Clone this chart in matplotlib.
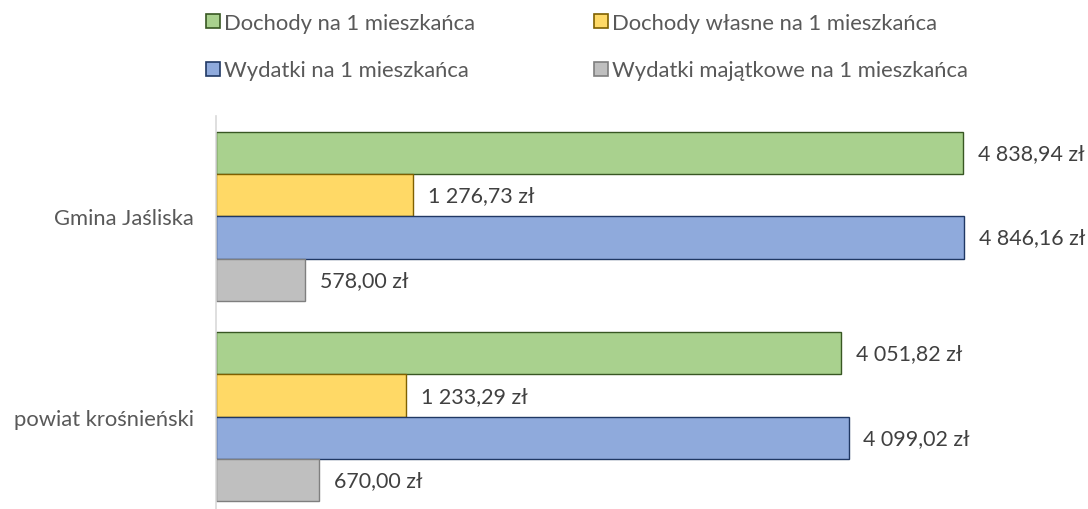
import matplotlib.pyplot as plt
import numpy as np
from matplotlib.patches import Patch

plt.rcParams["font.family"] = ["Lato", "DejaVu Sans"]

categories = ["Gmina Jaśliska", "powiat krośnieński"]
series_names = [
    "Dochody na 1 mieszkańca",
    "Dochody własne na 1 mieszkańca",
    "Wydatki na 1 mieszkańca",
    "Wydatki majątkowe na 1 mieszkańca",
]
dochody = [4838.94, 4051.82]
dochody_wlasne = [1276.73, 1233.29]
wydatki = [4846.16, 4099.02]
wydatki_majatkowe = [578.00, 670.00]

fills = ["#A9D18E", "#FFD966", "#8FAADC", "#BFBFBF"]
edges = ["#385723", "#7F6000", "#203864", "#7F7F7F"]


def fmt(v):
    s = f"{v:,.2f}".replace(",", " ").replace(".", ",")
    return f"{s} zł"


W, H = 1088, 510
fig = plt.figure(figsize=(W / 100, H / 100), dpi=100)
# axes in pixel terms: left 216, right 1065, top 117, bottom 518
ax = fig.add_axes([216 / W, (H - 518) / H, (1065 - 216) / W, (518 - 117) / H])

h = 0.211
y = np.arange(len(categories))
all_series = [dochody, dochody_wlasne, wydatki, wydatki_majatkowe]
for i, vals in enumerate(all_series):
    pos = y + (i - 1.5) * h
    ax.barh(pos, vals, height=h, color=fills[i], edgecolor=edges[i], linewidth=1.0,
            label=series_names[i])
    for p, v in zip(pos, vals):
        ax.annotate(fmt(v), (v, p), xytext=(10.5, 0), textcoords="offset points",
                    va="center", ha="left", fontsize=15.4, color="#404040")

ax.set_xlim(0, 5500)
ax.set_ylim(1.5, -0.5)
ax.set_yticks(y)
ax.set_yticklabels(categories, fontsize=15.8, color="#595959")
ax.tick_params(axis="y", length=0, pad=16)
ax.set_xticks([])
for s in ["top", "right", "bottom"]:
    ax.spines[s].set_visible(False)
ax.spines["left"].set_color("#D9D9D9")
ax.spines["left"].set_linewidth(1.2)

handles = [Patch(facecolor=fills[i], edgecolor=edges[i], linewidth=1.2) for i in range(4)]
order = [0, 2, 1, 3]
fig.legend([handles[i] for i in order], [series_names[i] for i in order],
           ncol=2, loc="upper left", bbox_to_anchor=(195 / W, 1 - 3 / H),
           frameon=False, fontsize=15.8, labelcolor="#595959", borderpad=0,
           handlelength=0.62, handleheight=0.62, handletextpad=0.22,
           columnspacing=5.4, labelspacing=1.25)

fig.savefig("out.png", dpi=100)
